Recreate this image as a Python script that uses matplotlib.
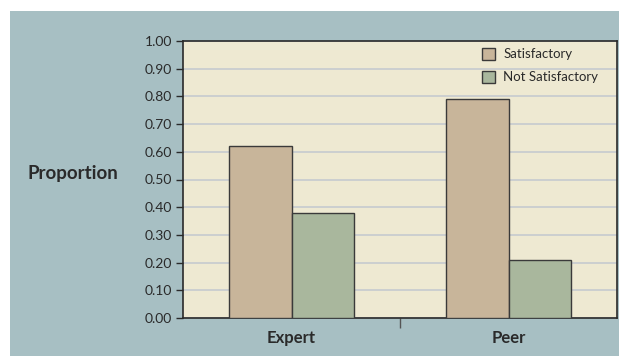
import matplotlib.pyplot as plt
from matplotlib.patches import Rectangle
import numpy as np

plt.rcParams['font.family'] = ['Lato', 'DejaVu Sans']

groups = ['Expert', 'Peer']
satisfactory = [0.62, 0.79]
not_satisfactory = [0.38, 0.21]
yticks = np.arange(0, 1.01, 0.1)

fig = plt.figure(figsize=(6.19, 3.56), dpi=100, facecolor='white')
# teal panel behind the chart, leaving a thin white strip top and left
fig.patches.append(Rectangle((10 / 619, 0), 1 - 10 / 619, (356 - 11) / 356,
                             transform=fig.transFigure, facecolor='#a7bfc3',
                             edgecolor='none', zorder=-5))

ax = fig.add_axes([183 / 619, 1 - 318 / 356, 434 / 619, 277 / 356])
ax.set_zorder(2)
ax.set_facecolor('#eee9d2')

x = np.arange(len(groups))
w = 0.286
ax.bar(x - w / 2, satisfactory, w, color='#c8b59a', edgecolor='#3a3a3a',
       linewidth=1, label='Satisfactory', zorder=3)
ax.bar(x + w / 2, not_satisfactory, w, color='#a9b79d', edgecolor='#3a3a3a',
       linewidth=1, label='Not Satisfactory', zorder=3)

ax.set_xlim(-0.5, 1.5)
ax.set_ylim(0, 1.0)
ax.set_yticks(yticks)
ax.set_yticklabels(['%.2f' % v for v in yticks], fontsize=10, color='#2a2a2a')
ax.yaxis.grid(True, color='#c9cdcf', linewidth=1.3, zorder=1)
ax.set_axisbelow(True)
ax.tick_params(axis='y', length=5, width=1, color='#2a2a2a', pad=3)

# group labels sit between no ticks; a single tick divides the groups
ax.set_xticks([0.5])
ax.set_xticklabels([''])
ax.tick_params(axis='x', length=7, width=1, color='#555555')
for xi, g in zip(x, groups):
    ax.text(xi, -0.045, g, transform=ax.get_xaxis_transform(), ha='center',
            va='top', fontsize=12, fontweight='bold', color='#2a2a2a')

for s in ax.spines.values():
    s.set_color('#2a2a2a')
    s.set_linewidth(1.2)

fig.text(73 / 619, 1 - 173 / 356, 'Proportion', ha='center', va='center',
         fontsize=13.5, fontweight='bold', color='#2a2a2a')

leg = ax.legend(loc='upper left', frameon=False, fontsize=9.5,
                handlelength=1.0, handleheight=1.0, handletextpad=0.6,
                labelspacing=0.8, bbox_to_anchor=(0.689, 0.975),
                borderaxespad=0, borderpad=0)
for t in leg.get_texts():
    t.set_color('#2a2a2a')

fig.savefig('out.png', dpi=100, facecolor=fig.get_facecolor())
